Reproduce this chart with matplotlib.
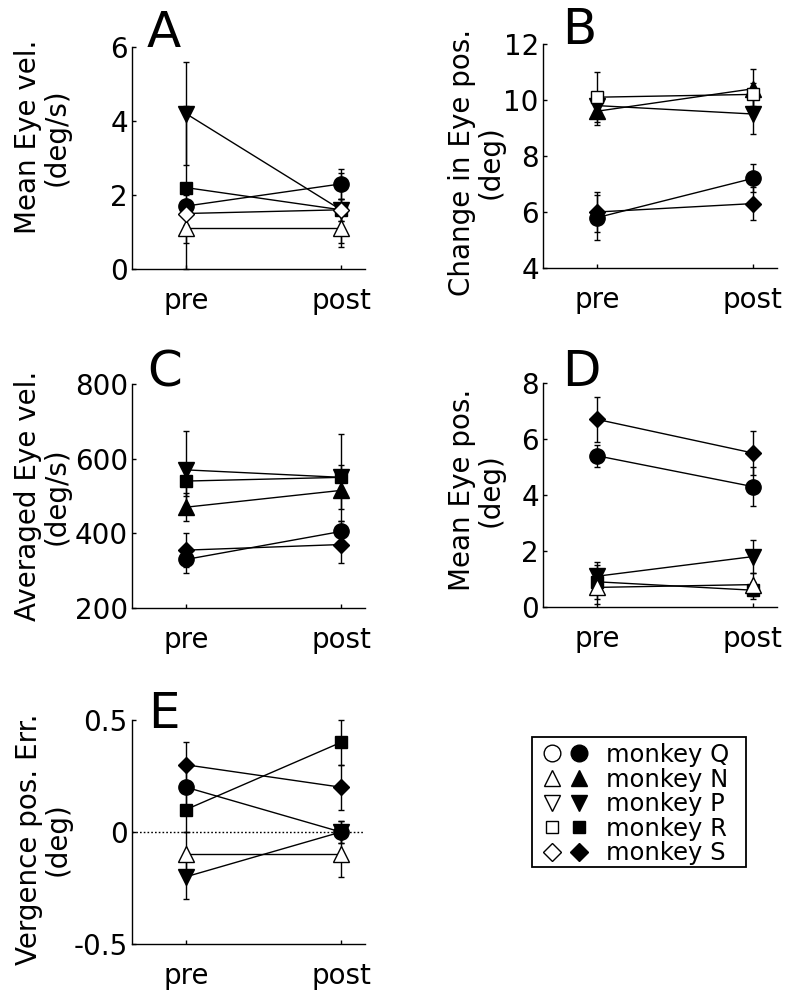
import matplotlib
matplotlib.use('Agg')
import matplotlib.pyplot as plt
from matplotlib.lines import Line2D
from matplotlib.patches import Rectangle
from matplotlib.legend_handler import HandlerTuple

plt.rcParams['font.family'] = ['DejaVu Sans']

conditions = ['pre', 'post']
monkeys = ['Q', 'N', 'P', 'R', 'S']

# Panel A: Mean Eye vel. (deg/s)
a_mean = [[1.7, 2.3], [1.1, 1.1], [4.2, 1.6], [2.2, 1.6], [1.5, 1.6]]
a_err = [[0.3, 0.4], [0.4, 0.4], [1.4, 1.0], [2.2, 0.3], [0.3, 0.3]]
a_open = [False, True, False, False, True]

# Panel B: Change in Eye pos. (deg)
b_mean = [[5.8, 7.2], [9.6, 10.4], [9.8, 9.5], [10.1, 10.2], [6.0, 6.3]]
b_err = [[0.8, 0.5], [0.5, 0.7], [0.3, 0.7], [0.9, 0.4], [0.7, 0.6]]
b_open = [False, False, False, True, False]

# Panel C: Averaged Eye vel. (deg/s)
c_mean = [[330, 405], [470, 515], [570, 550], [540, 550], [355, 370]]
c_err = [[36, 27], [38, 49], [105, 116], [40, 34], [45, 50]]
c_open = [False, False, False, False, False]

# Panel D: Mean Eye pos. (deg)
d_mean = [[5.4, 4.3], [0.7, 0.8], [1.1, 1.8], [0.9, 0.6], [6.7, 5.5]]
d_err = [[0.4, 0.7], [0.6, 0.4], [0.5, 0.6], [0.6, 0.3], [0.8, 0.8]]
d_open = [False, True, False, False, False]

# Panel E: Vergence pos. Err. (deg)
e_mean = [[0.2, 0.0], [-0.1, -0.1], [-0.2, 0.0], [0.1, 0.4], [0.3, 0.2]]
e_err = [[0.1, 0.05], [0.1, 0.1], [0.1, 0.05], [0.1, 0.1], [0.1, 0.1]]
e_open = [False, True, False, False, False]

panel_letters = ['A', 'B', 'C', 'D', 'E']
ylabels = ['Mean Eye vel.\n(deg/s)', 'Change in Eye pos.\n(deg)',
           'Averaged Eye vel.\n(deg/s)', 'Mean Eye pos.\n(deg)',
           'Vergence pos. Err.\n(deg)']
yticks = [[0, 2, 4, 6], [4, 6, 8, 10, 12], [200, 400, 600, 800],
          [0, 2, 4, 6, 8], [-0.5, 0, 0.5]]
ytick_labels = [['0', '2', '4', '6'], ['4', '6', '8', '10', '12'],
                ['200', '400', '600', '800'], ['0', '2', '4', '6', '8'],
                ['-0.5', '0', '0.5']]
legend_labels = ['monkey Q', 'monkey N', 'monkey P', 'monkey R', 'monkey S']

# styles
mstyle = {'Q': ('o', 11), 'N': ('^', 11), 'P': ('v', 11), 'R': ('s', 8.5), 'S': ('D', 8)}
legend_ms = {'Q': 12, 'N': 12, 'P': 12, 'R': 9, 'S': 9}

fig = plt.figure(figsize=(8, 9.92), dpi=100)
W, H = 800, 992

def rect(l, t, r, b):
    return [l / W, 1 - b / H, (r - l) / W, (b - t) / H]

rects = [rect(132, 47, 365, 269), rect(543, 44, 777, 268),
         rect(132, 384, 365, 608), rect(543, 383, 777, 607),
         rect(132, 720, 365, 944)]
label_coords = [(-0.262, 0.595), (-0.162, 0.473), (-0.262, 0.50),
                (-0.162, 0.522), (-0.258, 0.469)]
letter_pos = [(0.064, 1.0), (0.081, 1.0), (0.064, 0.987), (0.081, 0.987), (0.068, 0.964)]

panels = [(a_mean, a_err, a_open), (b_mean, b_err, b_open), (c_mean, c_err, c_open),
          (d_mean, d_err, d_open), (e_mean, e_err, e_open)]

xpos = [1, 2]
for i, (means, errs, opens) in enumerate(panels):
    ax = fig.add_axes(rects[i])
    for j, mk in enumerate(monkeys):
        m, ms = mstyle[mk]
        fc = 'white' if opens[j] else 'black'
        ax.errorbar(xpos, means[j], yerr=errs[j], fmt='-', color='black', lw=1.0,
                    elinewidth=1.0, capsize=2.2, capthick=1.0, marker=m, ms=ms,
                    mfc=fc, mec='black', mew=1.0, zorder=3 + (1 if opens[j] else 0) + j * 0.01,
                    clip_on=False)
    if i == 4:
        ax.axhline(0, color='black', lw=1.0, ls=(0, (1.2, 1.5)), zorder=1)
    ax.set_xlim(0.652, 2.155)
    ax.set_ylim(yticks[i][0], yticks[i][-1])
    ax.set_xticks(xpos)
    ax.set_xticklabels(conditions)
    ax.set_yticks(yticks[i])
    ax.set_yticklabels(ytick_labels[i])
    ax.tick_params(direction='in', length=3, width=1, labelsize=20, pad=3)
    ax.tick_params(axis='x', pad=13)
    for s in ['top', 'right']:
        ax.spines[s].set_visible(False)
    for s in ['left', 'bottom']:
        ax.spines[s].set_linewidth(1.0)
    ax.set_ylabel(ylabels[i], fontsize=20, linespacing=1.05)
    ax.yaxis.set_label_coords(*label_coords[i])
    ax.text(letter_pos[i][0], letter_pos[i][1], panel_letters[i], transform=ax.transAxes,
            fontsize=36, ha='left', va='baseline')

handles = []
for mk in monkeys:
    m, _ = mstyle[mk]
    ms = legend_ms[mk]
    h_open = Line2D([], [], ls='none', marker=m, ms=ms, mfc='white', mec='black', mew=1.0)
    h_fill = Line2D([], [], ls='none', marker=m, ms=ms, mfc='black', mec='black', mew=1.0)
    handles.append((h_open, h_fill))

fs = 17.5
fs_px = fs * 100 / 72
leg = fig.legend(handles, legend_labels, handler_map={tuple: HandlerTuple(ndivide=None, pad=0.0)},
                 loc='upper left', bbox_to_anchor=(538.5 / W, 1 - 743 / H), borderaxespad=0,
                 fontsize=fs, frameon=False, handlelength=54 / fs_px,
                 handletextpad=13.5 / fs_px, labelspacing=0.025, borderpad=0.0)
fig.patches.append(Rectangle((532 / W, 1 - 867 / H), (746 - 532) / W, (867 - 737) / H,
                             transform=fig.transFigure, fill=False, edgecolor='black',
                             linewidth=1.3))

fig.savefig('out.png', dpi=100)
